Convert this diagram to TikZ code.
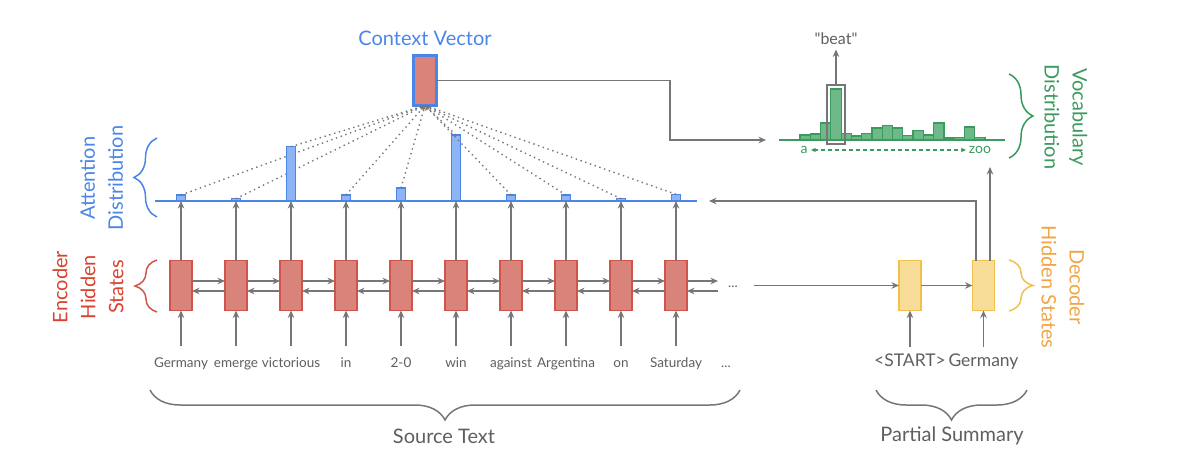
\documentclass[tikz,border=0pt]{standalone}
\usepackage{fontspec}
\setmainfont{Lato}
\newfontfamily\rawlato{Lato}[Ligatures=TeXOff]
\usetikzlibrary{positioning,arrows.meta,decorations.pathreplacing}
\definecolor{greyline}{HTML}{767676}
\definecolor{greytext}{HTML}{5F5F5F}
\definecolor{ctxblue}{HTML}{4A86E8}
\definecolor{barblue}{HTML}{8DB4F5}
\definecolor{encfill}{HTML}{D9837A}
\definecolor{encline}{HTML}{D0544A}
\definecolor{encred}{HTML}{D8432F}
\definecolor{decfill}{HTML}{F8DD98}
\definecolor{decline}{HTML}{F2C04C}
\definecolor{decorange}{HTML}{F2A444}
\definecolor{vocgreen}{HTML}{3C9A5F}
\definecolor{vocfill}{HTML}{6DBA88}

\begin{document}
\begin{tikzpicture}[x=1pt,y=-1pt,>={Stealth[length=7.5pt,width=6.5pt]},
 every node/.style={inner sep=0pt,outer sep=0pt},
 flow/.style={->,draw=greyline,line width=1.6pt},
 att/.style={->,draw=greyline,line width=1.4pt,dash pattern=on 1.4pt off 3.6pt,>={Stealth[length=5pt,width=4.5pt]}},
 encbox/.style={draw=encline,fill=encfill,line width=1.4pt,minimum width=22pt,minimum height=50pt},
 decbox/.style={draw=decline,fill=decfill,line width=1.4pt,minimum width=22pt,minimum height=50pt},
 attbar/.style={draw=ctxblue,fill=barblue,line width=1.2pt,minimum width=9pt,anchor=south},
 vocbar/.style={draw=vocgreen,fill=vocfill,line width=1.2pt,minimum width=10.28pt,anchor=south},
 word/.style={text=greytext,font=\fontsize{13.5}{16}\selectfont,text height=10pt,text depth=3pt},
 dword/.style={text=greytext,font=\fontsize{17.5}{20}\selectfont,text height=12.5pt,text depth=4pt},
 headline/.style={font=\fontsize{20}{28}\selectfont,align=center},
 curly/.style={decorate,decoration={brace,amplitude=#1},line width=1.5pt},
]
\useasboundingbox (0,0) rectangle (1184,471);

\coordinate (attL) at (155,201);
\coordinate (attR) at (697,201);
\draw[ctxblue,line width=1.6pt] (attL) -- (attR);

\node[draw=ctxblue,fill=encfill,line width=3.3pt,minimum width=23pt,minimum height=50pt] (ctx) at (425,80.5) {};
\node[headline,text=ctxblue] (ctxlab) at (425,38) {Context Vector};

\foreach \w/\h [count=\i] in {Germany/6,emerge/2.3,victorious/54.3,in/6,2-0/13,win/66,against/6,Argentina/6,on/2.3,Saturday/6.7} {
  \pgfmathsetmacro\xx{181+55*(\i-1)}
  \node[encbox] (e\i) at (\xx,285.5) {};
  \node[word] (w\i) at (\xx,364) {\w};
  \node[attbar,minimum height=\h pt] (a\i) at (\xx,201) {};
  \draw[flow,shorten <=11.5pt] (w\i.north) -- (e\i.south);
  \draw[flow] (e\i.north) -- (a\i.south);
  \draw[att] (a\i.north) -- (ctx.south);
  \ifnum\i>1
    \pgfmathtruncatemacro\j{\i-1}
    \draw[flow] ([yshift=4.5pt]e\j.east) -- ([yshift=4.5pt]e\i.west);
    \draw[flow] ([yshift=-5.5pt]e\i.west) -- ([yshift=-5.5pt]e\j.east);
  \fi
}
\coordinate (eR) at (718,281);
\coordinate (eL) at (718,291);
\draw[flow] ([yshift=4.5pt]e10.east) -- (eR);
\draw[flow] (eL) -- ([yshift=-5.5pt]e10.east);
\node[word] (edots) at (733,284) {...};
\node[word] (wdots) at (726,364) {...};

\node[decbox] (d1) at (910,285.5) {};
\node[decbox] (d2) at (983.5,285.5) {};
\node[dword] (s1) at (910,362) {<START>};
\node[dword] (s2) at (983.5,362) {Germany};
\coordinate (encEnd) at (754,285.5);
\draw[flow] (encEnd) -- (d1.west);
\draw[flow] (d1) -- (d2);
\draw[flow,shorten <=7pt] (s1.north) -- (d1.south);
\draw[flow,shorten <=7pt] (s2.north) -- (d2.south);
\coordinate (attIn) at (709,201);
\coordinate (vocIn) at (990,167);
\draw[flow] ([xshift=-7.5pt]d2.north) |- (attIn);
\draw[flow] ([xshift=6.5pt]d2.north) -- (vocIn);

\draw[vocgreen,line width=1.6pt] (779,140) -- (1005,140);
\foreach \t [count=\i] in {135,134,123,89,133.3,136,133.7,128,125.7,128,135.3,130.7,135,123,138,137.3,127,137.3} {
  \node[vocbar,minimum height={(140-\t)*1pt}] (v\i) at ({794.86+10.28*\i},140) {};
}
\node[draw=greyline,line width=1.4pt,minimum width=18pt,minimum height=59pt] (pick) at (836,114.5) {};
\node[dword,font=\rawlato\fontsize{16}{18}\selectfont,text height=11pt,text depth=0pt] (beat) at (836,39) {"beat"};
\draw[flow,shorten >=5pt] (pick.north) -- (beat.south);
\node[text=vocgreen,font=\fontsize{14}{16}\selectfont,inner sep=3.5pt] (va) at (804,150) {a};
\node[text=vocgreen,font=\fontsize{14}{16}\selectfont,inner sep=3pt] (vz) at (980,150) {zoo};
\draw[<->,vocgreen,line width=1.2pt,dash pattern=on 4pt off 3pt,>={Stealth[length=5pt,width=4.5pt]}] (va) -- (vz);

\coordinate (bend) at (670,110);
\coordinate (vocL) at (766,140);
\draw[flow] (ctx.east) -| (bend) |- (vocL);

\draw[curly=23pt,ctxblue] (157,217) -- (157,138);
\draw[curly=22pt,encline] (157,312) -- (157,260);
\draw[curly=24pt,vocgreen] (1009,74) -- (1009,158);
\draw[curly=24pt,decline] (1009,260) -- (1009,311);
\draw[curly=30pt,greyline] (740,390) -- (150,390);
\draw[curly=30pt,greyline] (1027,390) -- (876,390);

\node[headline,text=ctxblue,rotate=90] (attlab) at (101.5,178) {Attention\\Distribution};
\node[headline,text=encred,rotate=90] (enclab) at (88,287) {Encoder\\Hidden\\States};
\node[headline,text=vocgreen,rotate=-90] (voclab) at (1066,117) {Vocabulary\\Distribution};
\node[headline,text=decorange,rotate=-90] (declab) at (1063,287) {Decoder\\Hidden States};
\node[headline,text=greytext] (srclab) at (444,436) {Source Text};
\node[headline,text=greytext] (sumlab) at (952,436) {Partial Summary};
\end{tikzpicture}
\end{document}
